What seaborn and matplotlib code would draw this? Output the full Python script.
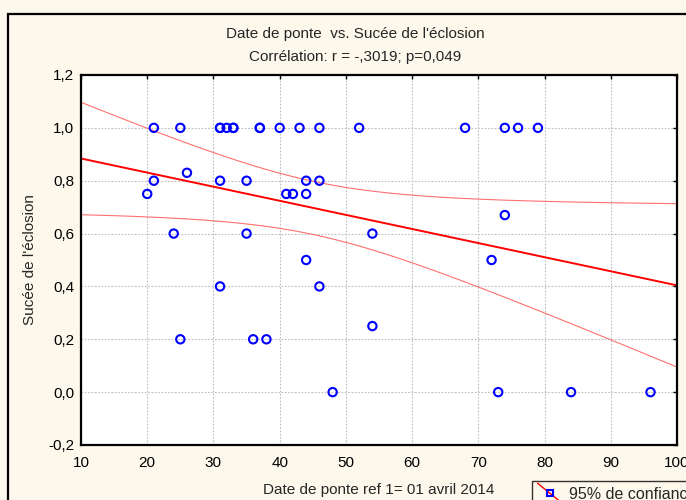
import numpy as np
import pandas as pd
import matplotlib
matplotlib.use("Agg")
import matplotlib.pyplot as plt
from matplotlib.lines import Line2D
from matplotlib.patches import Rectangle
from matplotlib.legend_handler import HandlerBase
import seaborn as sns

# ---- data (n = 43; three points overlap others) ----
date_ponte = [20, 21, 21, 24, 25, 25, 26, 31, 31, 31, 32, 33, 35, 35, 36, 37, 38,
              40, 41, 42, 43, 44, 44, 44, 46, 46, 46, 48, 52, 54, 54, 68, 72, 73,
              74, 74, 76, 79, 84, 96, 31, 33, 37]
succes = [0.75, 1.0, 0.8, 0.6, 1.0, 0.2, 0.83, 1.0, 0.8, 0.4, 1.0, 1.0, 0.8, 0.6,
          0.2, 1.0, 0.2, 1.0, 0.75, 0.75, 1.0, 0.8, 0.75, 0.5, 1.0, 0.8, 0.4, 0.0,
          1.0, 0.6, 0.25, 1.0, 0.5, 0.0, 1.0, 0.67, 1.0, 1.0, 0.0, 0.0, 1.0, 1.0, 1.0]
x_ticks = [10, 20, 30, 40, 50, 60, 70, 80, 90, 100]
y_ticks = [-0.2, 0.0, 0.2, 0.4, 0.6, 0.8, 1.0, 1.2]
y_ticklabels = ["-0,2", "0,0", "0,2", "0,4", "0,6", "0,8", "1,0", "1,2"]
t_crit = 2.02  # t(0.975, n-2)

df = pd.DataFrame({"x": date_ponte, "y": succes})

# ---- regression & 95% confidence band ----
x = np.asarray(date_ponte, float)
y = np.asarray(succes, float)
n = len(x)
b, a = np.polyfit(x, y, 1)
resid = y - (a + b * x)
s = np.sqrt(np.sum(resid ** 2) / (n - 2))
sxx = np.sum((x - x.mean()) ** 2)
xs = np.linspace(10, 100, 200)
fit = a + b * xs
se = s * np.sqrt(1.0 / n + (xs - x.mean()) ** 2 / sxx)
fit_df = pd.DataFrame({"x": xs, "fit": fit, "lo": fit - t_crit * se, "hi": fit + t_crit * se})

# ---- figure ----
sns.set_style("white")
plt.rcParams["font.family"] = ["Liberation Sans", "DejaVu Sans"]
bg = "#FDF8EC"
fs = 11
fig = plt.figure(figsize=(6.86, 5.0), dpi=100, facecolor=bg)
ax = fig.add_axes([81 / 686, 1 - 445 / 500, (677 - 81) / 686, (445 - 75) / 500])
ax.set_facecolor("white")

# border of the figure panel
fig.patches.append(Rectangle((8 / 686, -0.1), 1.2, 1 - 14 / 500 + 0.1,
                             transform=fig.transFigure, fill=False,
                             edgecolor="black", linewidth=1.6, zorder=0))

ax.grid(True, color="#BDBDBD", linestyle=(0, (1.5, 1.5)), linewidth=0.8)
ax.set_axisbelow(True)

sns.lineplot(data=fit_df, x="x", y="hi", ax=ax, color="#FF7070", linewidth=0.8)
sns.lineplot(data=fit_df, x="x", y="lo", ax=ax, color="#FF7070", linewidth=0.8)
sns.lineplot(data=fit_df, x="x", y="fit", ax=ax, color="#FF0000", linewidth=1.4)
sns.scatterplot(data=df, x="x", y="y", ax=ax, marker="o", s=36,
                facecolor="none", edgecolor="#0000FF", linewidth=1.5, zorder=5)

ax.set_xlim(10, 100)
ax.set_ylim(-0.2, 1.2)
ax.set_xticks(x_ticks)
ax.set_yticks(y_ticks)
ax.set_yticklabels(y_ticklabels)
ax.tick_params(axis="both", which="both", direction="in", length=3, width=1,
               colors="black", labelsize=fs, top=True, right=True,
               labeltop=False, labelright=False, pad=5)
ax.tick_params(axis="x", pad=8)
for side in ["left", "right", "top", "bottom"]:
    ax.spines[side].set_visible(True)
    ax.spines[side].set_color("black")
    ax.spines[side].set_linewidth(1.6)

ax.set_xlabel("Date de ponte ref 1= 01 avril 2014", fontsize=fs, labelpad=9)
ax.set_ylabel("Sucée de l'éclosion", fontsize=fs, labelpad=8)

fig.text(355 / 686, 1 - 34 / 500, "Date de ponte  vs. Sucée de l'éclosion",
         ha="center", va="center", fontsize=fs)
fig.text(355 / 686, 1 - 57 / 500, "Corrélation: r = -,3019; p=0,049",
         ha="center", va="center", fontsize=fs)


class DiagHandler(HandlerBase):
    def create_artists(self, legend, orig_handle, xdescent, ydescent,
                       width, height, fontsize, trans):
        l = Line2D([-xdescent, -xdescent + width], [height + 3 - ydescent, -3 - ydescent],
                   color="red", linewidth=1.0, transform=trans)
        m = Line2D([-xdescent + width / 2], [height / 2 - ydescent], marker="s",
                   markersize=5, markerfacecolor="none", markeredgecolor="blue",
                   markeredgewidth=1.5, linestyle="none", transform=trans)
        return [l, m]


handle = Line2D([], [], color="red")
leg = fig.legend([handle], ["95% de confiance"], handler_map={Line2D: DiagHandler()},
                 loc="upper left", bbox_to_anchor=(532 / 686, 1 - 481 / 500),
                 frameon=True, fancybox=False, fontsize=11.5, handlelength=1.5,
                 borderaxespad=0, borderpad=0.35, handletextpad=0.45)
leg.get_frame().set_edgecolor("black")
leg.get_frame().set_facecolor(bg)
leg.get_frame().set_linewidth(1.0)

fig.savefig("out.png", dpi=100, facecolor=bg)
